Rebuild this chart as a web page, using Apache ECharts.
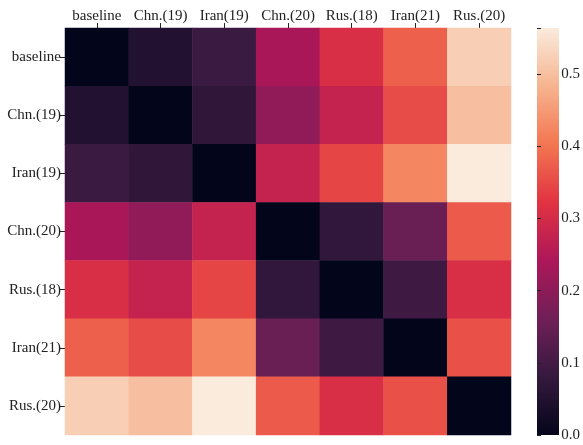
<!DOCTYPE html>
<html>
<head>
<meta charset="utf-8">
<style>html,body{margin:0;padding:0;background:#fff;}#c{width:583px;height:445px;}</style>
<script src="https://cdn.jsdelivr.net/npm/echarts@6/dist/echarts.min.js"></script>
</head>
<body>
<div id="c"></div>
<script>
const categories = ['baseline', 'Chn.(19)', 'Iran(19)', 'Chn.(20)', 'Rus.(18)', 'Iran(21)', 'Rus.(20)'];
const row_baseline = [0.000, 0.050, 0.088, 0.238, 0.308, 0.378, 0.523];
const row_chn19    = [0.050, 0.000, 0.072, 0.203, 0.277, 0.352, 0.500];
const row_iran19   = [0.088, 0.072, 0.000, 0.277, 0.344, 0.423, 0.564];
const row_chn20    = [0.238, 0.203, 0.277, 0.000, 0.073, 0.152, 0.369];
const row_rus18    = [0.308, 0.277, 0.344, 0.073, 0.000, 0.093, 0.308];
const row_iran21   = [0.378, 0.352, 0.423, 0.152, 0.093, 0.000, 0.357];
const row_rus20    = [0.523, 0.500, 0.564, 0.369, 0.308, 0.357, 0.000];
const colorbarTicks = [0, 0.1, 0.2, 0.3, 0.4, 0.5];
const vmin = 0, vmax = 0.564;

const rows = [row_baseline, row_chn19, row_iran19, row_chn20, row_rus18, row_iran21, row_rus20];
const rocket = ['#03051a', '#35193e', '#701f57', '#ad1759', '#e13342', '#f37651', '#f6b48f', '#faebdd'];

const data = [];
rows.forEach((r, yi) => r.forEach((v, xi) => data.push([xi, yi, v])));

const font = 'Liberation Serif, Times New Roman, serif';
const chart = echarts.init(document.getElementById('c'), null, {renderer: 'canvas'});
chart.setOption({
  animation: false,
  backgroundColor: '#fff',
  grid: [
    {left: 65, top: 28, width: 446, height: 407},
    {left: 537, top: 28, width: 22, height: 407}
  ],
  xAxis: [
    {type: 'category', data: categories, position: 'top', gridIndex: 0,
     axisLine: {show: false}, splitLine: {show: false},
     axisTick: {show: true, alignWithLabel: true, length: 5, lineStyle: {color: '#222'}},
     axisLabel: {color: '#222', fontFamily: font, fontSize: 15, margin: 4, interval: 0}},
    {type: 'value', gridIndex: 1, show: false, min: 0, max: 1}
  ],
  yAxis: [
    {type: 'category', data: categories, inverse: true, gridIndex: 0,
     axisLine: {show: false}, splitLine: {show: false},
     axisTick: {show: true, alignWithLabel: true, length: 5, lineStyle: {color: '#222'}},
     axisLabel: {color: '#222', fontFamily: font, fontSize: 15, margin: 4, interval: 0}},
    {type: 'value', gridIndex: 1, position: 'right', min: vmin, max: vmax, interval: 0.1,
     axisLine: {show: false}, splitLine: {show: false},
     axisTick: {show: true, length: 4, lineStyle: {color: '#222'}},
     axisLabel: {color: '#222', fontFamily: font, fontSize: 15, margin: 3,
       formatter: v => colorbarTicks.some(t => Math.abs(t - v) < 1e-9) ? v.toFixed(1) : ''}}
  ],
  visualMap: {show: false, type: 'continuous', min: vmin, max: vmax, seriesIndex: 0, inRange: {color: rocket}},
  graphic: [{
    type: 'rect', shape: {x: 537, y: 28, width: 22, height: 407}, z: 0,
    style: {fill: new echarts.graphic.LinearGradient(0, 1, 0, 0,
      rocket.map((c, i) => ({offset: i / (rocket.length - 1), color: c})))}
  }],
  series: [{
    type: 'heatmap', xAxisIndex: 0, yAxisIndex: 0, data: data,
    itemStyle: {borderWidth: 0}, emphasis: {disabled: true}
  }]
});
</script>
</body>
</html>
